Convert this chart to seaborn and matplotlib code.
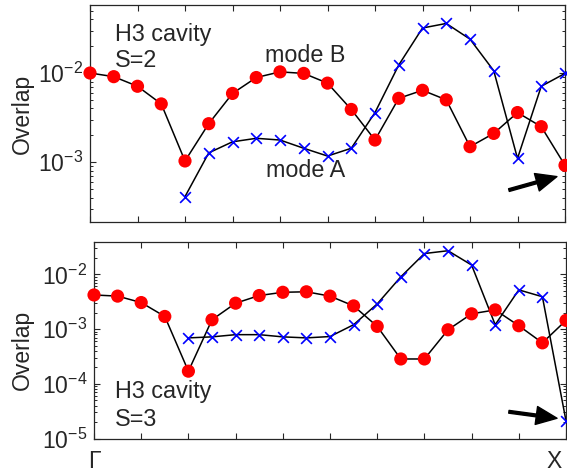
import numpy as np
import matplotlib
matplotlib.use('Agg')
import matplotlib.pyplot as plt
from matplotlib.ticker import LogLocator, NullFormatter, FixedLocator
from matplotlib.transforms import ScaledTranslation
import seaborn as sns

# k-points from Gamma (0) to X (20)
kpt = np.arange(21)
kpt_a = kpt[4:]

# S=2
s2_mode_b = [1.0e-2, 9.1e-3, 7.1e-3, 4.5e-3, 1.03e-3, 2.7e-3, 5.9e-3, 8.9e-3, 1.03e-2, 9.9e-3,
             7.7e-3, 3.9e-3, 1.77e-3, 5.2e-3, 6.4e-3, 5.0e-3, 1.49e-3, 2.1e-3, 3.6e-3, 2.5e-3, 9.2e-4]
s2_mode_a = [4.1e-4, 1.27e-3, 1.69e-3, 1.85e-3, 1.77e-3, 1.43e-3, 1.17e-3, 1.43e-3, 3.6e-3,
             1.23e-2, 3.2e-2, 3.6e-2, 2.4e-2, 1.06e-2, 1.1e-3, 7.1e-3, 9.9e-3]

# S=3
s3_mode_b = [4.2e-3, 4.0e-3, 3.05e-3, 1.7e-3, 1.7e-4, 1.48e-3, 2.97e-3, 4.1e-3, 4.7e-3, 4.8e-3,
             4.0e-3, 2.65e-3, 1.12e-3, 2.84e-4, 2.84e-4, 9.7e-4, 1.9e-3, 2.24e-3, 1.15e-3, 5.6e-4, 1.44e-3]
s3_mode_a = [6.9e-4, 7.2e-4, 7.9e-4, 7.9e-4, 7.2e-4, 6.9e-4, 7.3e-4, 1.2e-3, 2.88e-3,
             9.0e-3, 2.4e-2, 2.7e-2, 1.48e-2, 1.2e-3, 5.2e-3, 3.9e-3, 2.1e-5]

xlabels = ['Γ'] + [''] * 9 + ['X']

sns.set_style('ticks')
plt.rcParams['font.family'] = ['Liberation Sans', 'DejaVu Sans']
plt.rcParams['mathtext.fontset'] = 'custom'
plt.rcParams['mathtext.rm'] = 'Liberation Sans'
plt.rcParams['mathtext.it'] = 'Liberation Sans:italic'
plt.rcParams['axes.unicode_minus'] = False
plt.rcParams['axes.linewidth'] = 0.9
plt.rcParams['font.size'] = 16

fig = plt.figure(figsize=(5.67, 4.73), dpi=100)
ax1 = fig.add_axes([90 / 567, 1 - 222.5 / 473, 475 / 567, 217.5 / 473])
ax2 = fig.add_axes([94 / 567, 1 - 438.5 / 473, 472 / 567, 196.5 / 473])


def draw(ax, mode_b, mode_a):
    sns.lineplot(x=kpt, y=mode_b, color='black', linewidth=1.1, ax=ax, sort=False, errorbar=None)
    sns.lineplot(x=kpt_a, y=mode_a, color='black', linewidth=1.1, ax=ax, sort=False, errorbar=None)
    sns.scatterplot(x=kpt, y=mode_b, color='red', s=90, edgecolor='none', zorder=3,
                    clip_on=False, ax=ax)
    sns.scatterplot(x=kpt_a, y=mode_a, color='blue', marker='x', s=60, linewidth=1.2,
                    zorder=4, clip_on=False, ax=ax)
    ax.set_yscale('log')
    ax.set_xlim(0, 20)
    ax.xaxis.set_major_locator(FixedLocator(np.arange(0, 21, 2)))
    ax.yaxis.set_major_locator(LogLocator(base=10))
    ax.yaxis.set_minor_locator(LogLocator(base=10, subs=np.arange(2, 10)))
    ax.yaxis.set_minor_formatter(NullFormatter())
    ax.tick_params(which='both', direction='in', top=True, right=True, labelsize=16.5, pad=5)
    ax.tick_params(which='major', length=4, width=0.8)
    ax.tick_params(which='minor', length=2.5, width=0.7)
    ax.set_xlabel('')
    for s in ax.spines.values():
        s.set_visible(True)


draw(ax1, s2_mode_b, s2_mode_a)
ax1.set_ylim(2.1e-4, 5.8e-2)
ax1.set_xticklabels([])
ax1.set_ylabel('Overlap', fontsize=16.5)
ax1.yaxis.set_label_coords(-0.118, 0.5)
ax1.text(0.053, 0.836, 'H3 cavity', transform=ax1.transAxes, fontsize=16.8, va='baseline')
ax1.text(0.053, 0.716, 'S=2', transform=ax1.transAxes, fontsize=16.8, va='baseline')
ax1.text(0.453, 0.738, 'mode B', transform=ax1.transAxes, fontsize=16.8, ha='center', va='baseline')
ax1.text(0.453, 0.209, 'mode A', transform=ax1.transAxes, fontsize=16.8, ha='center', va='baseline')
ax1.annotate('', xy=(0.983, 0.211), xytext=(0.882, 0.149), xycoords='axes fraction',
             arrowprops=dict(facecolor='black', edgecolor='black', width=2, headwidth=13,
                             headlength=15, shrink=0))

draw(ax2, s3_mode_b, s3_mode_a)
ax2.set_ylim(1e-5, 3.9e-2)
ax2.set_xticklabels(xlabels)
ax2.tick_params(axis='x', pad=8)
last = ax2.get_xticklabels()[-1]
last.set_ha('right')
last.set_transform(last.get_transform() + ScaledTranslation(-4 / 100, 0, fig.dpi_scale_trans))
ax2.set_ylabel('Overlap', fontsize=16.5)
ax2.yaxis.set_label_coords(-0.127, 0.453)
ax2.text(0.045, 0.2046, 'H3 cavity', transform=ax2.transAxes, fontsize=16.8, va='baseline')
ax2.text(0.045, 0.066, 'S=3', transform=ax2.transAxes, fontsize=16.8, va='baseline')
ax2.annotate('', xy=(0.981, 0.103), xytext=(0.879, 0.136), xycoords='axes fraction',
             arrowprops=dict(facecolor='black', edgecolor='black', width=2, headwidth=13,
                             headlength=15, shrink=0))

fig.savefig('out.png', dpi=100)
